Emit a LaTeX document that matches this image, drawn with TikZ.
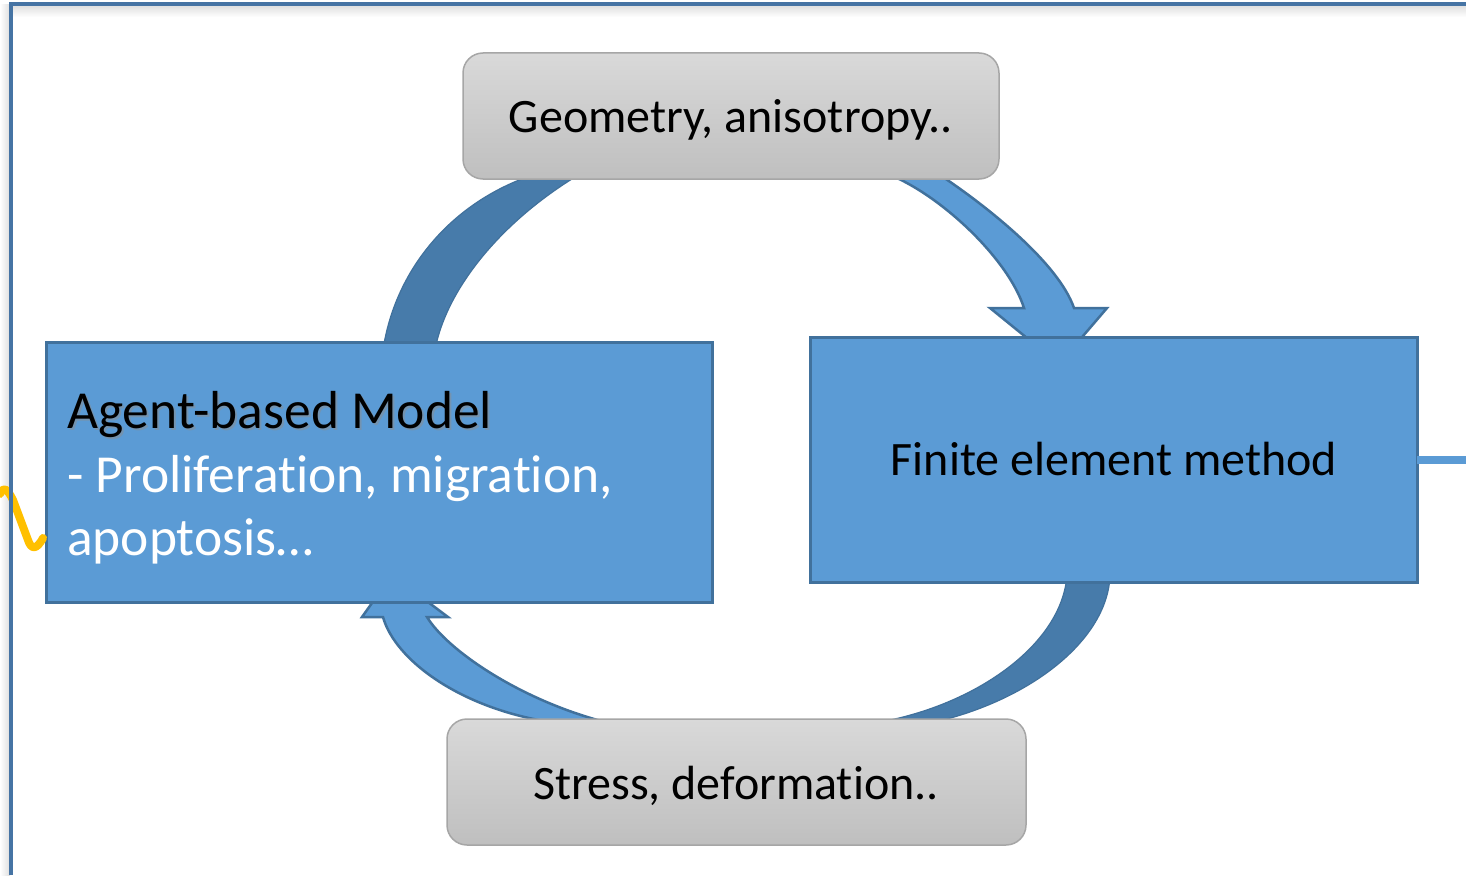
\documentclass[tikz,border=0pt]{standalone}
\usepackage{fontspec}
\setmainfont{Carlito}[Ligatures={NoCommon}]
\definecolor{blueFill}{RGB}{91,155,213}
\definecolor{blueLine}{RGB}{65,113,156}
\definecolor{darkFill}{RGB}{71,123,170}
\definecolor{frameLine}{RGB}{70,116,164}
\definecolor{grayTop}{RGB}{217,217,217}
\definecolor{grayBot}{RGB}{191,191,191}
\definecolor{grayLine}{RGB}{166,166,166}
\definecolor{squiggle}{RGB}{255,192,0}
\begin{document}
\begin{tikzpicture}[x=1pt,y=-1pt,
  bluebox/.style={draw=blueLine, line width=3pt, fill=blueFill, inner sep=0pt, outer sep=0pt},
  graybox/.style={draw=grayLine, line width=1.5pt, rounded corners=20pt, top color=grayTop, bottom color=grayBot, inner sep=0pt, outer sep=0pt},
  darkband/.style={fill=darkFill, draw=blueLine, line width=1.2pt},
  lightarrow/.style={fill=blueFill, draw=blueLine, line width=2.5pt, line join=miter},
  lbl/.style={inner sep=0pt, anchor=base, font=\fontsize{48}{57}\selectfont},
  abmlbl/.style={inner sep=0pt, anchor=base west, font=\fontsize{53.5}{64}\selectfont},
  frame/.style={draw=frameLine, line width=4pt}
]
\useasboundingbox (0,0) rectangle (1466,875);
\fill[white] (0,0) rectangle (1466,875);
% frame shadows
\shade[top color=black!13, bottom color=white] (11,5) rectangle (1466,17);
\shade[left color=white, right color=black!13] (0,5) rectangle (10,875);

% curved arrows (drawn beneath the boxes)
\path[darkband] (383,350) .. controls (395,270) and (450,205) .. (527,177)
  -- (580,174) .. controls (500,222) and (446,290) .. (435,350) -- cycle;
\path[lightarrow] (890,175) .. controls (940,195) and (1008,258) .. (1024,308)
  -- (990,308) -- (1059,364) -- (1107,308) -- (1074,308)
  .. controls (1058,262) and (985,205) .. (940,175) -- cycle;
\path[darkband] (1110,575) .. controls (1108,640) and (1030,700) .. (935,722)
  -- (880,722) .. controls (975,705) and (1062,645) .. (1067,575) -- cycle;
\path[lightarrow] (605,722) .. controls (520,700) and (447,650) .. (427,617)
  -- (448,617) -- (392,575) -- (362,617) -- (383,617)
  .. controls (395,660) and (460,708) .. (550,722) -- cycle;

% boxes
\node[graybox, minimum width=536pt, minimum height=126pt] (geo) at (731,116) {};
\node[graybox, minimum width=579pt, minimum height=126pt] (stress) at (736.5,782) {};
\node[bluebox, minimum width=666pt, minimum height=260pt] (abm) at (379,472) {};
\node[bluebox, minimum width=607pt, minimum height=245pt] (fem) at (1113.5,459.5) {};

% labels
\node[lbl] (geot) at (731,132) {Geometry, anisotropy..};
\node[lbl] (strt) at (736,799) {Stress, deformation..};
\node[lbl] (femt) at (1114,475) {Finite element method};
\node[abmlbl, text=black!45, opacity=0.5] at (69,430) {Agent-based Model};
\node[abmlbl] (abmt1) at (67,428) {Agent-based Model};
\node[abmlbl, text=white] (abmt2) at (67,492) {- Proliferation, migration,};
\node[abmlbl, text=white] (abmt3) at (67,555) {apoptosis…};

% right stub line
\coordinate (stubend) at (1466,459.5);
\draw[blueFill, line width=8pt] (fem.east) -- (stubend);

% yellow squiggle
\draw[squiggle, line width=8pt, line cap=round, line join=round]
  (0,494) .. controls (3,486) and (7,488) .. (13,500) -- (28,540)
  .. controls (31,549) and (36,551) .. (43,538);

% frame
\draw[frame] (1466,4) -- (11,4) -- (11,875);
\end{tikzpicture}
\end{document}
